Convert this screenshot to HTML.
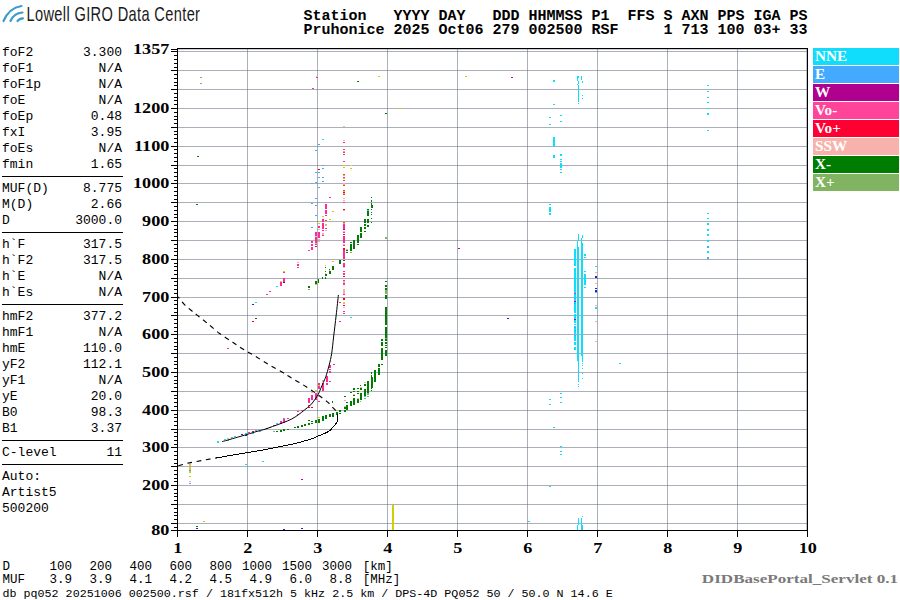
<!DOCTYPE html>
<html><head><meta charset="utf-8"><style>
html,body{margin:0;padding:0;background:#fff;width:900px;height:600px;overflow:hidden}
svg{display:block}
</style></head><body>
<svg width="900" height="600" viewBox="0 0 900 600">
<rect width="900" height="600" fill="#fff"/>
<g fill="#697185" fill-opacity="0.565" shape-rendering="crispEdges"><rect x="178" y="523" width="629" height="1"/><rect x="178" y="504" width="629" height="1"/><rect x="178" y="485" width="629" height="1"/><rect x="178" y="466" width="629" height="1"/><rect x="178" y="447" width="629" height="1"/><rect x="178" y="429" width="629" height="1"/><rect x="178" y="410" width="629" height="1"/><rect x="178" y="391" width="629" height="1"/><rect x="178" y="372" width="629" height="1"/><rect x="178" y="353" width="629" height="1"/><rect x="178" y="334" width="629" height="1"/><rect x="178" y="315" width="629" height="1"/><rect x="178" y="297" width="629" height="1"/><rect x="178" y="278" width="629" height="1"/><rect x="178" y="259" width="629" height="1"/><rect x="178" y="240" width="629" height="1"/><rect x="178" y="221" width="629" height="1"/><rect x="178" y="202" width="629" height="1"/><rect x="178" y="183" width="629" height="1"/><rect x="178" y="165" width="629" height="1"/><rect x="178" y="146" width="629" height="1"/><rect x="178" y="127" width="629" height="1"/><rect x="178" y="108" width="629" height="1"/><rect x="178" y="89" width="629" height="1"/><rect x="178" y="70" width="629" height="1"/><rect x="178" y="51" width="629" height="1"/><rect x="178" y="49" width="629" height="1" opacity="0.6"/><rect x="247" y="49" width="1" height="481"/><rect x="317" y="49" width="1" height="481"/><rect x="387" y="49" width="1" height="481"/><rect x="457" y="49" width="1" height="481"/><rect x="527" y="49" width="1" height="481"/><rect x="597" y="49" width="1" height="481"/><rect x="667" y="49" width="1" height="481"/><rect x="737" y="49" width="1" height="481"/><rect x="806" y="49" width="1" height="481" opacity="0.75"/></g><g fill="#000" shape-rendering="crispEdges"><rect x="171" y="530" width="6" height="1"/><rect x="174" y="527" width="3" height="1"/><rect x="171" y="523" width="6" height="1"/><rect x="174" y="519" width="3" height="1"/><rect x="174" y="515" width="3" height="1"/><rect x="174" y="512" width="3" height="1"/><rect x="174" y="508" width="3" height="1"/><rect x="171" y="504" width="6" height="1"/><rect x="174" y="500" width="3" height="1"/><rect x="174" y="496" width="3" height="1"/><rect x="174" y="493" width="3" height="1"/><rect x="174" y="489" width="3" height="1"/><rect x="171" y="485" width="6" height="1"/><rect x="174" y="481" width="3" height="1"/><rect x="174" y="478" width="3" height="1"/><rect x="174" y="474" width="3" height="1"/><rect x="174" y="470" width="3" height="1"/><rect x="171" y="466" width="6" height="1"/><rect x="174" y="463" width="3" height="1"/><rect x="174" y="459" width="3" height="1"/><rect x="174" y="455" width="3" height="1"/><rect x="174" y="451" width="3" height="1"/><rect x="171" y="447" width="6" height="1"/><rect x="174" y="444" width="3" height="1"/><rect x="174" y="440" width="3" height="1"/><rect x="174" y="436" width="3" height="1"/><rect x="174" y="432" width="3" height="1"/><rect x="171" y="429" width="6" height="1"/><rect x="174" y="425" width="3" height="1"/><rect x="174" y="421" width="3" height="1"/><rect x="174" y="417" width="3" height="1"/><rect x="174" y="414" width="3" height="1"/><rect x="171" y="410" width="6" height="1"/><rect x="174" y="406" width="3" height="1"/><rect x="174" y="402" width="3" height="1"/><rect x="174" y="398" width="3" height="1"/><rect x="174" y="395" width="3" height="1"/><rect x="171" y="391" width="6" height="1"/><rect x="174" y="387" width="3" height="1"/><rect x="174" y="383" width="3" height="1"/><rect x="174" y="380" width="3" height="1"/><rect x="174" y="376" width="3" height="1"/><rect x="171" y="372" width="6" height="1"/><rect x="174" y="368" width="3" height="1"/><rect x="174" y="364" width="3" height="1"/><rect x="174" y="361" width="3" height="1"/><rect x="174" y="357" width="3" height="1"/><rect x="171" y="353" width="6" height="1"/><rect x="174" y="349" width="3" height="1"/><rect x="174" y="346" width="3" height="1"/><rect x="174" y="342" width="3" height="1"/><rect x="174" y="338" width="3" height="1"/><rect x="171" y="334" width="6" height="1"/><rect x="174" y="331" width="3" height="1"/><rect x="174" y="327" width="3" height="1"/><rect x="174" y="323" width="3" height="1"/><rect x="174" y="319" width="3" height="1"/><rect x="171" y="315" width="6" height="1"/><rect x="174" y="312" width="3" height="1"/><rect x="174" y="308" width="3" height="1"/><rect x="174" y="304" width="3" height="1"/><rect x="174" y="300" width="3" height="1"/><rect x="171" y="297" width="6" height="1"/><rect x="174" y="293" width="3" height="1"/><rect x="174" y="289" width="3" height="1"/><rect x="174" y="285" width="3" height="1"/><rect x="174" y="281" width="3" height="1"/><rect x="171" y="278" width="6" height="1"/><rect x="174" y="274" width="3" height="1"/><rect x="174" y="270" width="3" height="1"/><rect x="174" y="266" width="3" height="1"/><rect x="174" y="263" width="3" height="1"/><rect x="171" y="259" width="6" height="1"/><rect x="174" y="255" width="3" height="1"/><rect x="174" y="251" width="3" height="1"/><rect x="174" y="248" width="3" height="1"/><rect x="174" y="244" width="3" height="1"/><rect x="171" y="240" width="6" height="1"/><rect x="174" y="236" width="3" height="1"/><rect x="174" y="232" width="3" height="1"/><rect x="174" y="229" width="3" height="1"/><rect x="174" y="225" width="3" height="1"/><rect x="171" y="221" width="6" height="1"/><rect x="174" y="217" width="3" height="1"/><rect x="174" y="214" width="3" height="1"/><rect x="174" y="210" width="3" height="1"/><rect x="174" y="206" width="3" height="1"/><rect x="171" y="202" width="6" height="1"/><rect x="174" y="199" width="3" height="1"/><rect x="174" y="195" width="3" height="1"/><rect x="174" y="191" width="3" height="1"/><rect x="174" y="187" width="3" height="1"/><rect x="171" y="183" width="6" height="1"/><rect x="174" y="180" width="3" height="1"/><rect x="174" y="176" width="3" height="1"/><rect x="174" y="172" width="3" height="1"/><rect x="174" y="168" width="3" height="1"/><rect x="171" y="165" width="6" height="1"/><rect x="174" y="161" width="3" height="1"/><rect x="174" y="157" width="3" height="1"/><rect x="174" y="153" width="3" height="1"/><rect x="174" y="149" width="3" height="1"/><rect x="171" y="146" width="6" height="1"/><rect x="174" y="142" width="3" height="1"/><rect x="174" y="138" width="3" height="1"/><rect x="174" y="134" width="3" height="1"/><rect x="174" y="131" width="3" height="1"/><rect x="171" y="127" width="6" height="1"/><rect x="174" y="123" width="3" height="1"/><rect x="174" y="119" width="3" height="1"/><rect x="174" y="116" width="3" height="1"/><rect x="174" y="112" width="3" height="1"/><rect x="171" y="108" width="6" height="1"/><rect x="174" y="104" width="3" height="1"/><rect x="174" y="100" width="3" height="1"/><rect x="174" y="97" width="3" height="1"/><rect x="174" y="93" width="3" height="1"/><rect x="171" y="89" width="6" height="1"/><rect x="174" y="85" width="3" height="1"/><rect x="174" y="82" width="3" height="1"/><rect x="174" y="78" width="3" height="1"/><rect x="174" y="74" width="3" height="1"/><rect x="171" y="70" width="6" height="1"/><rect x="174" y="67" width="3" height="1"/><rect x="174" y="63" width="3" height="1"/><rect x="174" y="59" width="3" height="1"/><rect x="174" y="55" width="3" height="1"/><rect x="171" y="51" width="6" height="1"/><rect x="171" y="49" width="6" height="1"/><rect x="177" y="531" width="1" height="6"/><rect x="247" y="531" width="1" height="6"/><rect x="317" y="531" width="1" height="6"/><rect x="387" y="531" width="1" height="6"/><rect x="457" y="531" width="1" height="6"/><rect x="527" y="531" width="1" height="6"/><rect x="597" y="531" width="1" height="6"/><rect x="667" y="531" width="1" height="6"/><rect x="737" y="531" width="1" height="6"/><rect x="807" y="531" width="1" height="6"/><rect x="177" y="48" width="631" height="1"/><rect x="177" y="530" width="631" height="1"/><rect x="177" y="48" width="1" height="483"/><rect x="807" y="48" width="1" height="483"/></g><g font-family="Liberation Serif, serif" font-weight="bold" font-size="14.3" fill="#000"><text transform="translate(169.3 54.0) scale(1.27 1)" text-anchor="end">1357</text><text transform="translate(169.3 113.0) scale(1.27 1)" text-anchor="end">1200</text><text transform="translate(169.3 151.0) scale(1.27 1)" text-anchor="end">1100</text><text transform="translate(169.3 188.0) scale(1.27 1)" text-anchor="end">1000</text><text transform="translate(169.3 226.0) scale(1.27 1)" text-anchor="end">900</text><text transform="translate(169.3 264.0) scale(1.27 1)" text-anchor="end">800</text><text transform="translate(169.3 302.0) scale(1.27 1)" text-anchor="end">700</text><text transform="translate(169.3 339.0) scale(1.27 1)" text-anchor="end">600</text><text transform="translate(169.3 377.0) scale(1.27 1)" text-anchor="end">500</text><text transform="translate(169.3 415.0) scale(1.27 1)" text-anchor="end">400</text><text transform="translate(169.3 452.0) scale(1.27 1)" text-anchor="end">300</text><text transform="translate(169.3 490.0) scale(1.27 1)" text-anchor="end">200</text><text transform="translate(169.3 535.0) scale(1.27 1)" text-anchor="end">80</text></g><g font-family="Liberation Serif, serif" font-weight="bold" font-size="14.3" fill="#000"><text transform="translate(177.7 552.6) scale(1.27 1)" text-anchor="middle">1</text><text transform="translate(247.7 552.6) scale(1.27 1)" text-anchor="middle">2</text><text transform="translate(317.7 552.6) scale(1.27 1)" text-anchor="middle">3</text><text transform="translate(387.7 552.6) scale(1.27 1)" text-anchor="middle">4</text><text transform="translate(457.7 552.6) scale(1.27 1)" text-anchor="middle">5</text><text transform="translate(527.7 552.6) scale(1.27 1)" text-anchor="middle">6</text><text transform="translate(597.7 552.6) scale(1.27 1)" text-anchor="middle">7</text><text transform="translate(667.7 552.6) scale(1.27 1)" text-anchor="middle">8</text><text transform="translate(737.7 552.6) scale(1.27 1)" text-anchor="middle">9</text><text transform="translate(807.7 552.6) scale(1.27 1)" text-anchor="middle">10</text></g><g font-family="Liberation Serif, serif" font-weight="bold" font-size="14.5" shape-rendering="crispEdges"><rect x="813" y="48" width="86" height="17" fill="#10dcfc"/><text x="815" y="61" fill="#fff" transform="translate(815 0) scale(1.05 1) translate(-815 0)">NNE</text><rect x="813" y="66" width="86" height="17" fill="#44aaff"/><text x="815" y="79" fill="#fff" transform="translate(815 0) scale(1.05 1) translate(-815 0)">E</text><rect x="813" y="84" width="86" height="17" fill="#b0008f"/><text x="815" y="97" fill="#fff" transform="translate(815 0) scale(1.05 1) translate(-815 0)">W</text><rect x="813" y="102" width="86" height="17" fill="#ff4499"/><text x="815" y="115" fill="#fff" transform="translate(815 0) scale(1.05 1) translate(-815 0)">Vo-</text><rect x="813" y="120" width="86" height="17" fill="#ff0033"/><text x="815" y="133" fill="#fff" transform="translate(815 0) scale(1.05 1) translate(-815 0)">Vo+</text><rect x="813" y="138" width="86" height="17" fill="#f7b3ab"/><text x="815" y="151" fill="#fff" transform="translate(815 0) scale(1.05 1) translate(-815 0)">SSW</text><rect x="813" y="156" width="86" height="17" fill="#007c00"/><text x="815" y="169" fill="#fff" transform="translate(815 0) scale(1.05 1) translate(-815 0)">X-</text><rect x="813" y="174" width="86" height="17" fill="#80b460"/><text x="815" y="187" fill="#fff" transform="translate(815 0) scale(1.05 1) translate(-815 0)">X+</text></g>
<g shape-rendering="crispEdges"><path fill="#80b460" d="M200 77h2v1h-2zM200 83h2v1h-2zM350 252h2v1h-2zM308 289h2v1h-2zM385 237h2v2h-2zM273 431h2v1h-2zM374 380h2v1h-2zM367 388h2v1h-2zM367 393h2v2h-2zM367 396h2v1h-2zM364 398h2v1h-2zM360 401h1v1h-1zM385 290h2v4h-2zM385 338h2v1h-2z"/><path fill="#f7b0a8" d="M316 76h2v1h-2zM343 126h2v1h-2zM343 140h2v1h-2zM350 165h2v1h-2zM343 183h2v1h-2zM343 198h2v1h-2zM343 200h2v1h-2zM343 210h2v1h-2zM325 225h2v1h-2zM325 230h2v1h-2zM322 233h2v2h-2zM318 229h2v1h-2zM318 239h2v1h-2zM318 241h2v1h-2zM315 236h2v1h-2zM315 243h2v1h-2zM343 231h2v1h-2zM343 244h2v1h-2zM346 249h2v1h-2zM357 237h2v1h-2zM343 258h2v2h-2zM343 267h2v1h-2zM343 281h2v2h-2zM343 289h2v5h-2zM343 302h2v1h-2zM343 307h2v1h-2zM329 270h1v1h-1zM325 273h1v1h-1zM318 278h1v1h-1zM360 236h2v1h-2zM297 262h2v1h-2zM322 380h2v2h-2zM311 392h2v1h-2zM318 396h2v1h-2zM308 402h2v1h-2zM344 400h2v1h-2zM344 406h2v1h-2zM189 465h2v1h-2zM189 468h2v1h-2zM189 481h2v1h-2zM364 382h2v1h-2zM360 387h2v1h-2zM360 391h2v1h-2zM357 398h2v1h-2zM353 394h2v1h-2zM595 272h2v1h-2zM595 283h2v1h-2zM595 305h2v1h-2zM595 321h2v1h-2zM595 341h2v1h-2zM458 221h2v1h-2z"/><path fill="#ff2a99" d="M316 77h2v1h-2zM312 88h2v1h-2zM343 142h2v1h-2zM343 149h2v1h-2zM343 152h2v1h-2zM343 154h2v1h-2zM343 161h2v1h-2zM325 204h2v5h-2zM325 210h2v4h-2zM329 197h2v1h-2zM343 174h2v1h-2zM343 177h2v1h-2zM343 180h2v1h-2zM343 185h2v1h-2zM343 190h2v1h-2zM343 194h2v1h-2zM343 202h2v1h-2zM325 212h2v2h-2zM325 215h2v1h-2zM325 220h2v1h-2zM325 228h2v1h-2zM322 219h2v3h-2zM322 223h2v6h-2zM322 230h2v1h-2zM322 235h2v1h-2zM318 226h2v2h-2zM318 232h2v6h-2zM315 232h2v4h-2zM315 237h2v6h-2zM315 244h2v1h-2zM311 241h2v2h-2zM311 244h2v2h-2zM311 247h2v3h-2zM308 250h2v1h-2zM343 222h2v1h-2zM343 224h2v5h-2zM343 232h2v1h-2zM343 236h2v7h-2zM343 245h2v1h-2zM343 250h2v9h-2zM343 263h2v4h-2zM343 271h2v1h-2zM343 273h2v2h-2zM343 280h2v1h-2zM343 283h2v2h-2zM343 294h2v1h-2zM339 302h2v1h-2zM297 264h2v2h-2zM297 267h2v1h-2zM283 272h2v1h-2zM283 278h2v4h-2zM280 282h2v4h-2zM269 291h2v1h-2zM266 294h2v1h-2zM227 348h2v1h-2zM329 365h2v3h-2zM333 364h2v1h-2zM329 369h2v1h-2zM329 371h2v2h-2zM326 376h2v6h-2zM329 381h2v1h-2zM326 383h2v2h-2zM322 383h2v8h-2zM326 380h2v2h-2zM318 383h2v6h-2zM311 395h2v5h-2zM315 393h2v7h-2zM318 401h2v1h-2zM308 398h2v5h-2zM308 405h2v1h-2zM297 411h2v1h-2zM301 410h2v1h-2zM297 414h2v1h-2zM248 432h2v1h-2zM269 427h2v1h-2zM273 425h2v1h-2zM280 421h2v3h-2zM283 419h2v4h-2zM287 418h2v1h-2zM574 293h2v1h-2zM343 311h2v1h-2zM343 313h2v1h-2zM339 321h2v1h-2z"/><path fill="#007c00" d="M357 81h2v1h-2zM385 113h2v1h-2zM197 156h2v1h-2zM343 260h2v1h-2zM346 250h2v1h-2zM346 252h2v1h-2zM350 242h2v1h-2zM350 244h2v7h-2zM353 240h2v9h-2zM357 235h2v8h-2zM357 244h2v1h-2zM339 260h2v3h-2zM371 197h1v1h-1zM371 200h1v2h-1zM371 203h1v2h-1zM371 205h2v3h-2zM371 209h1v1h-1zM371 212h1v1h-1zM371 214h1v1h-1zM371 218h1v1h-1zM371 222h1v1h-1zM367 209h2v7h-2zM364 219h2v4h-2zM364 224h2v2h-2zM364 227h2v2h-2zM367 219h2v4h-2zM367 225h2v2h-2zM360 227h2v5h-2zM339 263h2v1h-2zM332 266h2v4h-2zM329 269h1v1h-1zM329 271h2v3h-2zM325 267h1v1h-1zM325 271h1v1h-1zM325 274h2v2h-2zM325 277h1v2h-1zM322 277h1v2h-1zM318 279h1v4h-1zM315 281h2v3h-2zM308 286h2v2h-2zM360 233h2v5h-2zM364 231h2v1h-2zM255 318h2v1h-2zM344 396h2v1h-2zM346 402h2v1h-2zM332 401h1v2h-1zM346 405h2v1h-2zM344 407h2v2h-2zM346 406h2v4h-2zM344 410h2v2h-2zM339 410h2v2h-2zM339 413h2v1h-2zM336 412h2v3h-2zM332 413h2v4h-2zM329 414h2v3h-2zM325 415h2v4h-2zM322 416h2v5h-2zM318 419h2v4h-2zM315 420h2v3h-2zM311 421h2v1h-2zM311 423h2v1h-2zM308 420h2v1h-2zM308 423h2v2h-2zM304 424h2v2h-2zM301 425h2v2h-2zM297 427h2v1h-2zM294 427h2v1h-2zM276 431h2v1h-2zM280 430h2v2h-2zM283 429h2v2h-2zM287 429h2v1h-2zM294 427h2v1h-2zM297 426h2v2h-2zM301 425h2v2h-2zM304 424h2v2h-2zM308 423h2v2h-2zM196 526h2v1h-2zM381 355h2v5h-2zM385 355h2v1h-2zM378 364h2v3h-2zM378 368h2v7h-2zM381 364h2v1h-2zM374 370h2v12h-2zM371 372h1v2h-1zM371 375h1v14h-1zM371 377h2v11h-2zM371 390h1v1h-1zM367 381h2v12h-2zM364 384h2v2h-2zM364 389h2v7h-2zM360 385h1v1h-1zM360 388h2v2h-2zM360 393h2v7h-2zM357 388h2v1h-2zM357 391h2v1h-2zM357 393h2v1h-2zM357 399h2v4h-2zM353 388h2v2h-2zM353 391h2v1h-2zM353 395h2v1h-2zM353 398h2v7h-2zM350 392h2v1h-2zM350 401h2v5h-2zM385 281h2v1h-2zM385 285h2v2h-2zM385 288h2v2h-2zM385 295h2v4h-2zM385 307h2v18h-2zM385 327h2v11h-2zM385 339h2v2h-2zM385 342h2v2h-2zM385 345h2v1h-2zM385 347h2v1h-2zM385 350h2v6h-2zM381 339h2v2h-2zM381 342h2v4h-2zM381 348h2v12h-2zM196 204h2v1h-2z"/><path fill="#d0d000" d="M378 76h2v1h-2zM465 76h2v1h-2zM399 108h2v1h-2zM343 151h2v1h-2zM343 165h2v1h-2zM343 167h2v1h-2zM350 168h2v1h-2zM332 211h2v1h-2zM343 175h2v1h-2zM343 178h2v1h-2zM343 184h2v1h-2zM343 191h2v1h-2zM343 193h2v1h-2zM325 221h2v1h-2zM325 224h2v1h-2zM329 219h2v1h-2zM322 216h2v1h-2zM318 223h2v1h-2zM343 223h2v1h-2zM332 261h2v1h-2zM343 303h2v1h-2zM325 265h1v1h-1zM315 284h2v1h-2zM283 271h2v1h-2zM280 281h2v1h-2zM318 385h2v1h-2zM315 390h2v1h-2zM318 417h2v1h-2zM227 438h2v1h-2zM189 464h2v1h-2zM189 467h2v1h-2zM189 469h2v1h-2zM189 471h2v2h-2zM189 476h2v1h-2zM203 521h2v1h-2zM392 505h2v25h-2z"/><path fill="#c000b0" d="M511 77h2v1h-2zM343 229h2v1h-2zM353 245h2v1h-2zM301 479h2v1h-2zM574 301h2v1h-2zM574 319h2v1h-2zM458 248h2v1h-2z"/><path fill="#10dcfc" d="M322 139h2v1h-2zM553 80h2v2h-2zM553 104h2v1h-2zM578 85h1v17h-1zM578 103h1v1h-1zM577 76h2v2h-2zM577 78h1v3h-1zM578 81h1v3h-1zM577 84h1v1h-1zM581 76h1v4h-1zM582 81h1v2h-1zM582 95h1v1h-1zM582 98h1v1h-1zM549 117h2v1h-2zM549 124h2v1h-2zM560 115h2v1h-2zM560 121h2v1h-2zM553 137h2v10h-2zM553 155h2v3h-2zM560 154h2v2h-2zM560 159h2v1h-2zM560 161h2v1h-2zM560 163h2v5h-2zM560 169h2v1h-2zM560 172h2v1h-2zM707 85h2v1h-2zM707 91h2v1h-2zM707 97h2v1h-2zM707 102h2v1h-2zM707 108h2v1h-2zM707 113h2v2h-2zM707 130h2v1h-2zM367 210h2v1h-2zM276 286h2v1h-2zM255 302h2v1h-2zM217 441h2v2h-2zM224 439h2v1h-2zM234 436h2v1h-2zM245 433h2v1h-2zM252 433h2v1h-2zM276 423h2v1h-2zM262 461h2v1h-2zM245 464h2v1h-2zM364 396h2v1h-2zM574 249h2v17h-2zM574 268h2v25h-2zM574 294h2v4h-2zM574 299h2v2h-2zM574 302h2v1h-2zM574 304h2v9h-2zM574 314h2v5h-2zM574 320h2v3h-2zM574 324h2v1h-2zM574 326h2v1h-2zM574 328h2v2h-2zM574 331h2v3h-2zM574 335h2v6h-2zM574 342h2v3h-2zM574 347h2v3h-2zM578 234h1v7h-1zM577 241h1v6h-1zM577 247h2v114h-2zM578 361h1v21h-1zM578 384h1v1h-1zM578 386h1v1h-1zM582 235h1v3h-1zM581 238h1v2h-1zM581 240h1v3h-1zM581 243h2v113h-2zM582 356h1v5h-1zM582 361h1v1h-1zM582 363h1v1h-1zM582 365h1v1h-1zM582 368h1v1h-1zM582 373h1v1h-1zM582 378h1v1h-1zM584 254h2v2h-2zM584 257h2v1h-2zM584 271h2v1h-2zM584 274h2v11h-2zM584 287h2v1h-2zM595 266h2v1h-2zM595 292h2v1h-2zM595 307h2v2h-2zM560 393h2v1h-2zM560 397h2v1h-2zM560 402h2v1h-2zM549 399h2v1h-2zM549 404h2v1h-2zM553 427h2v1h-2zM560 446h2v1h-2zM560 451h2v1h-2zM560 454h2v1h-2zM549 486h2v1h-2zM578 518h1v7h-1zM577 525h1v5h-1zM582 516h1v1h-1zM581 518h1v7h-1zM581 525h2v5h-2zM528 521h2v1h-2zM707 213h2v1h-2zM707 218h2v1h-2zM707 223h2v2h-2zM707 229h2v2h-2zM707 234h2v2h-2zM707 240h2v2h-2zM707 251h2v2h-2zM619 363h2v1h-2zM549 204h2v1h-2zM549 207h2v5h-2zM549 213h2v2h-2zM350 317h2v1h-2z"/><path fill="#44aaff" d="M318 144h2v1h-2zM315 150h2v1h-2zM322 165h2v1h-2zM322 168h2v1h-2zM315 172h2v1h-2zM318 172h2v1h-2zM318 177h2v1h-2zM322 177h2v1h-2zM322 181h2v1h-2zM315 182h2v1h-2zM311 183h2v1h-2zM318 187h2v1h-2zM315 198h2v1h-2zM311 203h2v1h-2zM315 205h2v1h-2zM315 215h2v1h-2zM311 227h2v1h-2zM227 440h2v1h-2zM231 437h2v1h-2zM255 430h2v1h-2zM259 431h2v1h-2zM283 418h2v1h-2zM189 470h2v1h-2zM189 483h2v1h-2zM574 298h2v1h-2zM574 303h2v1h-2zM574 327h2v1h-2zM574 330h2v1h-2zM574 335h2v1h-2zM707 246h2v2h-2zM707 257h2v2h-2z"/><path fill="#ff0022" d="M318 169h2v1h-2zM343 192h2v1h-2zM343 209h2v1h-2zM315 246h2v1h-2zM343 234h2v1h-2zM343 248h2v2h-2zM343 276h2v1h-2zM343 298h2v2h-2zM343 305h2v1h-2zM252 321h2v1h-2zM308 407h2v1h-2zM311 407h2v1h-2zM252 431h2v1h-2zM266 428h2v1h-2z"/><path fill="#2020d0" d="M283 282h2v1h-2zM252 304h2v1h-2zM241 434h2v1h-2zM245 435h2v1h-2zM196 528h2v1h-2zM283 529h2v1h-2zM301 528h2v1h-2zM595 276h2v2h-2zM595 288h2v1h-2zM595 290h2v2h-2zM507 318h2v1h-2z"/></g>
<g fill="none" stroke="#000" stroke-linejoin="round"><path d="M222.20 441.60C225.17 440.75 234.03 438.25 240.00 436.50C245.97 434.75 253.83 432.32 258.00 431.10C262.17 429.88 262.17 430.12 265.00 429.20C267.83 428.28 271.95 426.70 275.00 425.60C278.05 424.50 280.52 423.70 283.30 422.60C286.08 421.50 289.20 420.30 291.70 419.00C294.20 417.70 296.22 416.27 298.30 414.80C300.38 413.33 302.12 411.87 304.20 410.20C306.28 408.53 309.00 406.63 310.80 404.80C312.60 402.97 313.75 400.97 315.00 399.20C316.25 397.43 317.37 395.93 318.30 394.20C319.23 392.47 319.77 390.75 320.60 388.80C321.43 386.85 322.43 384.52 323.30 382.50C324.17 380.48 324.82 379.62 325.80 376.70C326.78 373.78 328.22 368.90 329.20 365.00C330.18 361.10 330.97 357.97 331.70 353.30C332.43 348.63 332.85 343.38 333.60 337.00C334.35 330.62 335.40 322.00 336.20 315.00C337.00 308.00 338.03 298.33 338.40 295.00" stroke-width="1.0"/><path d="M216.00 457.50 L219.00 457.50 L224.30 456.50 L230.10 455.50 L236.50 454.50 L242.40 453.50 L247.90 452.50 L254.30 451.50 L259.90 450.50 L265.50 449.50 L270.80 448.50 L275.70 447.50 L281.00 446.50 L285.70 445.50 L290.50 444.50 L295.30 443.50 L299.00 442.50 L302.30 441.50 L306.00 440.50 L309.50 439.50 L312.50 438.50 L315.50 437.50 L318.50 435.80 L322.00 434.50 L324.50 433.50 L326.50 432.50 L328.50 431.50 L330.50 430.00 L332.50 427.50 L335.00 425.00 L336.80 422.50 L337.50 420.00 L337.50 418.50 L337.30 415.50 L337.00 413.50" stroke-width="1" shape-rendering="crispEdges"/><path d="M335.75 410.50C335.23 409.97 333.64 408.42 332.60 407.30C331.56 406.18 330.52 404.82 329.50 403.80C328.48 402.78 328.02 402.42 326.50 401.20C324.98 399.98 322.45 398.02 320.40 396.50C318.35 394.98 316.56 393.72 314.20 392.10C311.84 390.48 308.90 388.50 306.25 386.80C303.60 385.10 300.94 383.48 298.30 381.90C295.66 380.32 292.97 378.85 290.40 377.30C287.83 375.75 286.58 374.77 282.90 372.60C279.22 370.43 273.43 367.35 268.30 364.30C263.17 361.25 255.98 356.62 252.10 354.30C248.22 351.98 248.06 352.30 245.00 350.40C241.94 348.50 237.92 345.67 233.75 342.90C229.58 340.13 224.38 337.05 220.00 333.80C215.62 330.55 211.32 326.52 207.50 323.40C203.68 320.28 199.85 317.29 197.10 315.10C194.35 312.91 193.14 312.03 191.00 310.25C188.86 308.47 186.21 306.41 184.25 304.40C182.29 302.39 180.29 299.43 179.25 298.20C178.21 296.97 178.21 297.20 178.00 297.00" stroke-width="1.15" stroke-dasharray="4.8 4.4"/><path d="M178.30 465.80C179.75 465.40 184.03 464.10 187.00 463.40C189.97 462.70 192.92 462.22 196.10 461.60C199.28 460.98 202.87 460.28 206.10 459.70C209.33 459.12 213.68 458.45 215.50 458.10C217.32 457.75 216.75 457.68 217.00 457.60" stroke-width="1.1" stroke-dasharray="4.8 4.6"/></g>
<g font-family="Liberation Mono, monospace" font-size="13" fill="#000"><text x="2" y="56">foF2</text><text x="122" y="56" text-anchor="end">3.300</text><text x="2" y="72">foF1</text><text x="122" y="72" text-anchor="end">N/A</text><text x="2" y="88">foF1p</text><text x="122" y="88" text-anchor="end">N/A</text><text x="2" y="104">foE</text><text x="122" y="104" text-anchor="end">N/A</text><text x="2" y="120">foEp</text><text x="122" y="120" text-anchor="end">0.48</text><text x="2" y="136">fxI</text><text x="122" y="136" text-anchor="end">3.95</text><text x="2" y="152">foEs</text><text x="122" y="152" text-anchor="end">N/A</text><text x="2" y="168">fmin</text><text x="122" y="168" text-anchor="end">1.65</text><text x="2" y="192">MUF(D)</text><text x="122" y="192" text-anchor="end">8.775</text><text x="2" y="208">M(D)</text><text x="122" y="208" text-anchor="end">2.66</text><text x="2" y="224">D</text><text x="122" y="224" text-anchor="end">3000.0</text><text x="2" y="248">h`F</text><text x="122" y="248" text-anchor="end">317.5</text><text x="2" y="264">h`F2</text><text x="122" y="264" text-anchor="end">317.5</text><text x="2" y="280">h`E</text><text x="122" y="280" text-anchor="end">N/A</text><text x="2" y="296">h`Es</text><text x="122" y="296" text-anchor="end">N/A</text><text x="2" y="320">hmF2</text><text x="122" y="320" text-anchor="end">377.2</text><text x="2" y="336">hmF1</text><text x="122" y="336" text-anchor="end">N/A</text><text x="2" y="352">hmE</text><text x="122" y="352" text-anchor="end">110.0</text><text x="2" y="368">yF2</text><text x="122" y="368" text-anchor="end">112.1</text><text x="2" y="384">yF1</text><text x="122" y="384" text-anchor="end">N/A</text><text x="2" y="400">yE</text><text x="122" y="400" text-anchor="end">20.0</text><text x="2" y="416">B0</text><text x="122" y="416" text-anchor="end">98.3</text><text x="2" y="432">B1</text><text x="122" y="432" text-anchor="end">3.37</text><text x="2" y="456">C-level</text><text x="122" y="456" text-anchor="end">11</text><text x="2" y="480">Auto:</text><text x="2" y="496">Artist5</text><text x="2" y="512">500200</text></g><g shape-rendering="crispEdges"><rect x="2" y="176" width="121" height="1"/><rect x="2" y="232" width="121" height="1"/><rect x="2" y="304" width="121" height="1"/><rect x="2" y="440" width="121" height="1"/><rect x="2" y="464" width="121" height="1"/></g>
<g font-family="Liberation Mono, monospace" font-weight="bold" font-size="15" fill="#000" style="white-space:pre"><text x="303.5" y="20">Station&#160;&#160;&#160;YYYY&#160;DAY&#160;&#160;&#160;DDD&#160;HHMMSS&#160;P1&#160;&#160;FFS&#160;S&#160;AXN&#160;PPS&#160;IGA&#160;PS</text><text x="303.5" y="33.5">Pruhonice&#160;2025&#160;Oct06&#160;279&#160;002500&#160;RSF&#160;&#160;&#160;&#160;&#160;1&#160;713&#160;100&#160;03+&#160;33</text></g>
<g fill="none" stroke="#3a9ccc" stroke-width="2.2" stroke-linecap="round"><path d="M3.5 21 Q9 8 21.5 6"/><path d="M10.5 21 Q14 13 22.5 12.5"/><path d="M17.5 21 Q19 18.5 23 18.3"/></g><text x="26.5" y="21" font-family="Liberation Sans, sans-serif" font-size="20.3" letter-spacing="0.5" fill="#1a1a1a" transform="translate(26.5 0) scale(0.72 1) translate(-26.5 0)">Lowell GIRO Data Center</text>
<g font-family="Liberation Mono, monospace" font-size="12.5" fill="#000"><text x="2.5" y="570">D</text><text x="2.5" y="582.5">MUF</text><text x="72" y="570" text-anchor="end">100</text><text x="72" y="582.5" text-anchor="end">3.9</text><text x="112" y="570" text-anchor="end">200</text><text x="112" y="582.5" text-anchor="end">3.9</text><text x="152" y="570" text-anchor="end">400</text><text x="152" y="582.5" text-anchor="end">4.1</text><text x="192" y="570" text-anchor="end">600</text><text x="192" y="582.5" text-anchor="end">4.2</text><text x="232" y="570" text-anchor="end">800</text><text x="232" y="582.5" text-anchor="end">4.5</text><text x="272" y="570" text-anchor="end">1000</text><text x="272" y="582.5" text-anchor="end">4.9</text><text x="312" y="570" text-anchor="end">1500</text><text x="312" y="582.5" text-anchor="end">6.0</text><text x="352" y="570" text-anchor="end">3000</text><text x="352" y="582.5" text-anchor="end">8.8</text><text x="362.7" y="570">[km]</text><text x="362.7" y="582.5">[MHz]</text></g><text x="2.5" y="597" font-family="Liberation Mono, monospace" font-size="11.7" fill="#000" style="white-space:pre">db pq052 20251006 002500.rsf / 181fx512h 5 kHz 2.5 km / DPS-4D PQ052 50 / 50.0 N 14.6 E</text><text transform="translate(898 582.7) scale(1.265 1)" text-anchor="end" font-family="Liberation Serif, serif" font-weight="bold" font-size="13.5" fill="#7a7a7a">DIDBasePortal_Servlet 0.1</text>
</svg>
</body></html>
